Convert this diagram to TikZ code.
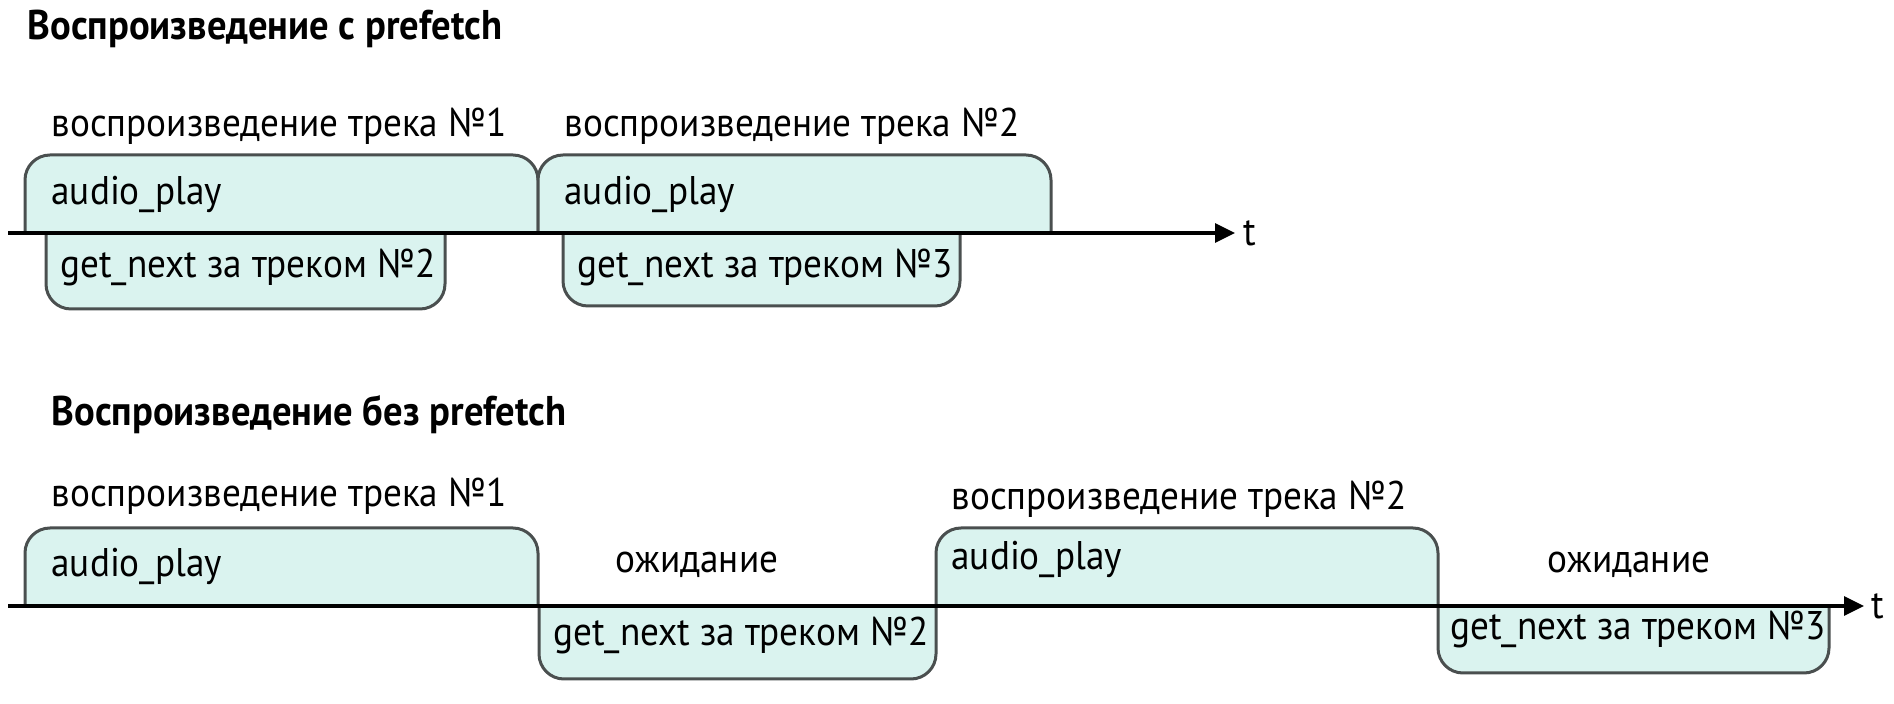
\documentclass[tikz,border=0pt]{standalone}
\usepackage{fontspec}
\setmainfont{PT Sans}[FakeStretch=0.93]
\usetikzlibrary{arrows.meta}
\definecolor{boxfill}{HTML}{DAF3EF}
\definecolor{boxline}{HTML}{4A4F4F}
\begin{document}
\begin{tikzpicture}[x=0.4pt, y=-0.4pt, font=\fontsize{16}{19}\selectfont,
    box/.style={draw=boxline, fill=boxfill, line width=1.2pt, rounded corners=10pt},
    axis/.style={line width=1.5pt, -{Triangle[length=8pt, width=7.5pt]}},
    txt/.style={anchor=base west, inner sep=0pt},
    ttl/.style={txt, font=\fontsize{16.6}{19}\selectfont\bfseries}]
  \useasboundingbox (0,0) rectangle (1894,704);
  % с prefetch
  \node[ttl] (ttl1) at (27,40) {Воспроизведение с prefetch};
  \foreach \l/\r in {25/538, 538/1051}
    \draw[box] (\l,233) |- (\r,155) -- (\r,233);
  \draw[box] (46,233) |- (445,309) -- (445,233);
  \draw[box] (563,233) |- (960,306) -- (960,233);
  \node[txt] (tr1a) at (51,137) {воспроизведение трека №1};
  \node[txt] (tr2a) at (564,137) {воспроизведение трека №2};
  \node[txt] (ap1a) at (51,205) {audio\_play};
  \node[txt] (ap2a) at (564,205) {audio\_play};
  \node[txt] (gn2a) at (60,278) {get\_next за треком №2};
  \node[txt] (gn3a) at (577,278) {get\_next за треком №3};
  \coordinate (s1) at (8,233);
  \coordinate (e1) at (1235,233);
  \draw[axis] (s1) -- (e1);
  \node[anchor=west, inner sep=0pt] (t1) at (1243,233) {t};
  % без prefetch
  \node[ttl] (ttl2) at (51,426) {Воспроизведение без prefetch};
  \foreach \l/\r in {25/538, 936/1438}
    \draw[box] (\l,606) |- (\r,528) -- (\r,606);
  \draw[box] (539,606) |- (936,679) -- (936,606);
  \draw[box] (1438,606) |- (1829,673) -- (1829,606);
  \node[txt] (tr1b) at (51,507) {воспроизведение трека №1};
  \node[txt] (tr2b) at (951,510) {воспроизведение трека №2};
  \node[txt] (ap1b) at (51,577) {audio\_play};
  \node[txt] (ap2b) at (951,570) {audio\_play};
  \node[txt, anchor=base] (w1) at (697,573) {ожидание};
  \node[txt, anchor=base] (w2) at (1629,573) {ожидание};
  \node[txt] (gn2b) at (553,646) {get\_next за треком №2};
  \node[txt] (gn3b) at (1450,640) {get\_next за треком №3};
  \coordinate (s2) at (8,606);
  \coordinate (e2) at (1864,606);
  \draw[axis] (s2) -- (e2);
  \node[anchor=west, inner sep=0pt] (t2) at (1871,606) {t};
\end{tikzpicture}
\end{document}
